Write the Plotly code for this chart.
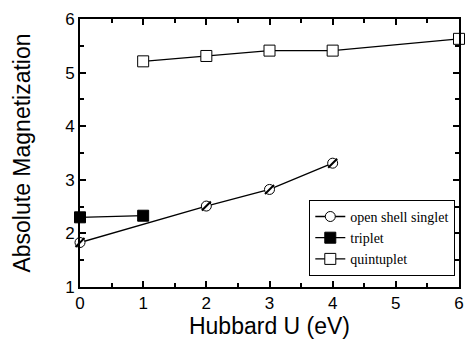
import plotly.graph_objects as go

u_singlet = [0, 2, 3, 4]
m_singlet = [1.83, 2.51, 2.82, 3.31]
u_triplet = [0, 1]
m_triplet = [2.30, 2.33]
u_quint = [1, 2, 3, 4, 6]
m_quint = [5.21, 5.31, 5.41, 5.41, 5.63]

fig = go.Figure()
fig.add_trace(go.Scatter(x=u_singlet, y=m_singlet, mode="lines+markers", name="open shell singlet",
                         line=dict(color="black", width=1.3),
                         marker=dict(symbol="circle", size=10, color="white", line=dict(color="black", width=1)),
                         cliponaxis=False))
fig.add_trace(go.Scatter(x=u_singlet, y=m_singlet, mode="markers", showlegend=False,
                         marker=dict(symbol="line-ne", size=9, line=dict(color="black", width=2)),
                         cliponaxis=False, hoverinfo="skip"))
fig.add_trace(go.Scatter(x=u_triplet, y=m_triplet, mode="lines+markers", name="triplet",
                         line=dict(color="black", width=1.3),
                         marker=dict(symbol="square", size=11, color="black", line=dict(color="black", width=1)),
                         cliponaxis=False))
fig.add_trace(go.Scatter(x=u_quint, y=m_quint, mode="lines+markers", name="quintuplet",
                         line=dict(color="black", width=1.3),
                         marker=dict(symbol="square", size=11, color="white", line=dict(color="black", width=1)),
                         cliponaxis=False))

axis_common = dict(showgrid=False, zeroline=False, showline=True, linecolor="black", linewidth=2,
                   mirror="allticks", ticks="inside", ticklen=6, tickwidth=1.5, tickcolor="black",
                   tickfont=dict(family="Arial, Liberation Sans", size=17, color="black"),
                   minor=dict(ticks="inside", ticklen=4, tickwidth=1.5, tickcolor="black", dtick=0.5))

fig.update_xaxes(range=[0, 6], dtick=1, tick0=0,
                 title=dict(text="Hubbard U (eV)", font=dict(family="Arial, Liberation Sans", size=23, color="black"), standoff=3),
                 **axis_common)
fig.update_yaxes(range=[1, 6], dtick=1, tick0=1,
                 title=dict(text="Absolute Magnetization", font=dict(family="Arial, Liberation Sans", size=23, color="black"), standoff=28),
                 **axis_common)

fig.update_layout(
    width=472, height=341,
    margin=dict(l=80, r=8, t=19, b=52),
    paper_bgcolor="white", plot_bgcolor="white",
    legend=dict(x=0.605, y=0.325, xanchor="left", yanchor="top",
                bgcolor="white", bordercolor="black", borderwidth=1,
                font=dict(family="Liberation Serif", size=14, color="black"),
                tracegroupgap=0, itemwidth=30),
    showlegend=True,
)

fig.write_html("out.html")
